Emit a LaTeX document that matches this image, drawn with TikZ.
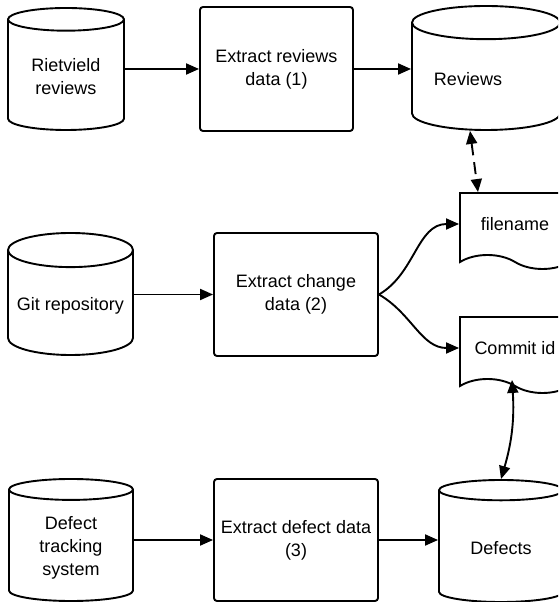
\documentclass[tikz,border=0pt]{standalone}
\usepackage{fontspec}
\setmainfont{Liberation Sans}
\usetikzlibrary{arrows.meta, shapes.geometric, shapes.symbols}

\begin{document}
\begin{tikzpicture}[
            x = 1pt, y = 1pt,
            > = {Triangle[length=13pt, width=11pt]}, % arrow head style
            line width = 1.9pt, % line style
            font = \fontsize{18}{23}\selectfont
        ]

        \tikzset{
            store/.style = {
                cylinder,
                shape border rotate = 90,
                draw = black,
                aspect = 0.3,
                align = center,
                anchor = shape center
            },
            task/.style = {
                rectangle,
                draw = black,
                rounded corners = 3pt,
                align = center
            },
            doc/.style = {
                tape,
                tape bend top = none,
                tape bend bottom = out and in,
                tape bend height = 14pt,
                draw = black,
                minimum width = 110pt,
                minimum height = 76pt
            }
        }

        \useasboundingbox (0,0) rectangle (558,602);
        \clip (0,0) rectangle (558,602);

        % sources
        \node[store, minimum width=116pt, minimum height=122pt] (riet) at (66,533) {Rietvield\\reviews};
        \node[store, minimum width=125pt, minimum height=122pt] (git) at (70.5,308) {Git repository};
        \node[store, minimum width=124pt, minimum height=122pt] (track) at (71,62) {Defect\\tracking\\system};

        % extraction steps
        \node[task, minimum width=153pt, minimum height=124pt] (ext1) at (276.5,533) {Extract reviews\\data (1)};
        \node[task, minimum width=164pt, minimum height=123pt] (ext2) at (296,307.5) {Extract change\\data (2)};
        \node[task, minimum width=164pt, minimum height=122pt] (ext3) at (296,62) {Extract defect data\\(3)};

        % results
        \node[store, minimum width=148pt, minimum height=124pt] (reviews) at (486,534) {Reviews\hspace*{36pt}};
        \node[doc] (filename) at (515,378) {filename};
        \node[doc] (commit) at (515,254) {Commit id};
        \node[store, minimum width=124pt, minimum height=122pt] (defects) at (501,61) {Defects};

        \draw[->] (ext1.west -| riet.east) -- (ext1.west);
        \draw[->] (ext1.east) -- (ext1.east -| reviews.west);
        \draw[->] (ext2.west -| git.east) -- (ext2.west);
        \draw[->] (ext2.east) to[out=30, in=180] (filename.west);
        \draw[->] (ext2.east) to[out=-30, in=180] (commit.west);
        \draw[->] (ext3.west -| track.east) -- (ext3.west);
        \draw[->] (ext3.east) -- (ext3.east -| defects.west);
        \draw[<->, dash pattern=on 12pt off 7pt] ([xshift=-16pt]reviews.south) -- ([xshift=-37pt]filename.north);
        \draw[<->] (defects.north) to[bend right=10] ([xshift=-3pt]commit.south);

\end{tikzpicture}
\end{document}
